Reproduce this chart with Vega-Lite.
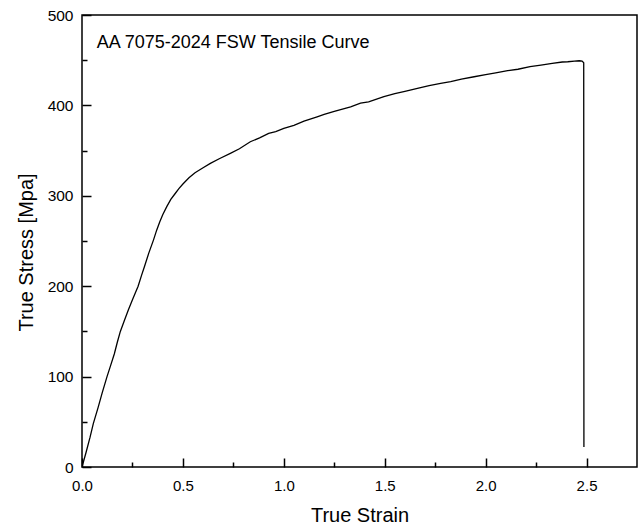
{
  "$schema": "https://vega.github.io/schema/vega-lite/v6.json",
  "width": 555,
  "height": 452,
  "autosize": "none",
  "padding": {"left": 82, "top": 15, "right": 2, "bottom": 60},
  "config": {
    "font": "Liberation Sans",
    "view": {"stroke": "#000", "strokeWidth": 1.5},
    "background": "#ffffff"
  },
  "data": {"values": [
    {"strain": 0, "stress": 0}, {"strain": 0.02, "stress": 16}, {"strain": 0.04, "stress": 33}, {"strain": 0.056, "stress": 48},
    {"strain": 0.08, "stress": 66}, {"strain": 0.10, "stress": 82}, {"strain": 0.124, "stress": 100}, {"strain": 0.14, "stress": 111},
    {"strain": 0.16, "stress": 125}, {"strain": 0.175, "stress": 138}, {"strain": 0.19, "stress": 150}, {"strain": 0.21, "stress": 162},
    {"strain": 0.23, "stress": 174}, {"strain": 0.25, "stress": 185}, {"strain": 0.278, "stress": 200}, {"strain": 0.295, "stress": 212},
    {"strain": 0.31, "stress": 222}, {"strain": 0.33, "stress": 236}, {"strain": 0.354, "stress": 251}, {"strain": 0.37, "stress": 262},
    {"strain": 0.385, "stress": 271}, {"strain": 0.40, "stress": 279}, {"strain": 0.42, "stress": 288}, {"strain": 0.44, "stress": 296},
    {"strain": 0.46, "stress": 302}, {"strain": 0.48, "stress": 308}, {"strain": 0.5, "stress": 313}, {"strain": 0.53, "stress": 320},
    {"strain": 0.56, "stress": 325.5}, {"strain": 0.6, "stress": 331}, {"strain": 0.636, "stress": 335.8}, {"strain": 0.68, "stress": 341},
    {"strain": 0.735, "stress": 346.9}, {"strain": 0.78, "stress": 352}, {"strain": 0.834, "stress": 359.8}, {"strain": 0.88, "stress": 364},
    {"strain": 0.925, "stress": 369}, {"strain": 0.96, "stress": 371}, {"strain": 1.0, "stress": 374.6}, {"strain": 1.05, "stress": 378},
    {"strain": 1.1, "stress": 382.5}, {"strain": 1.165, "stress": 387.4}, {"strain": 1.2, "stress": 390}, {"strain": 1.25, "stress": 393.5},
    {"strain": 1.331, "stress": 398.5}, {"strain": 1.38, "stress": 402.5}, {"strain": 1.42, "stress": 404}, {"strain": 1.496, "stress": 409.6},
    {"strain": 1.55, "stress": 413}, {"strain": 1.6, "stress": 415.5}, {"strain": 1.662, "stress": 418.9}, {"strain": 1.72, "stress": 422},
    {"strain": 1.777, "stress": 424.4}, {"strain": 1.827, "stress": 426.2}, {"strain": 1.88, "stress": 429}, {"strain": 1.943, "stress": 431.7},
    {"strain": 2.0, "stress": 434}, {"strain": 2.05, "stress": 436}, {"strain": 2.109, "stress": 438.4}, {"strain": 2.16, "stress": 440},
    {"strain": 2.22, "stress": 443}, {"strain": 2.274, "stress": 444.6}, {"strain": 2.33, "stress": 446.5}, {"strain": 2.38, "stress": 448},
    {"strain": 2.407, "stress": 448.3}, {"strain": 2.44, "stress": 449}, {"strain": 2.464, "stress": 449.4}, {"strain": 2.478, "stress": 449},
    {"strain": 2.486, "stress": 447.2}, {"strain": 2.487, "stress": 22}
  ]},
  "resolve": {"axis": {"x": "independent", "y": "independent"}},
  "layer": [
    {
      "mark": {"type": "line", "color": "#000", "strokeWidth": 1.3, "clip": true},
      "encoding": {
        "x": {
          "field": "strain", "type": "quantitative",
          "scale": {"domain": [0, 2.75], "nice": false, "zero": false},
          "axis": {
            "orient": "bottom", "offset": -9,
            "title": "True Strain", "titleFontSize": 20, "titleFontWeight": "normal", "titleColor": "#000", "titlePadding": 12,
            "values": [0, 0.5, 1, 1.5, 2, 2.5],
            "format": ".1f", "labelFlush": false,
            "labelFontSize": 15, "labelColor": "#000", "labelPadding": 11,
            "grid": false, "domain": false,
            "tickColor": "#000", "tickWidth": 1.5, "tickSize": 9
          }
        },
        "y": {
          "field": "stress", "type": "quantitative",
          "scale": {"domain": [0, 500], "nice": false},
          "axis": {
            "orient": "left", "offset": -9,
            "title": "True Stress [Mpa]", "titleFontSize": 20, "titleFontWeight": "normal", "titleColor": "#000", "titlePadding": 11,
            "titleY": 237,
            "values": [0, 100, 200, 300, 400, 500],
            "format": "d", "labelFlush": false,
            "labelFontSize": 15.5, "labelColor": "#000", "labelPadding": 9,
            "grid": false, "domain": false,
            "tickColor": "#000", "tickWidth": 1.5, "tickSize": 9
          }
        }
      }
    },
    {
      "mark": {"type": "line", "opacity": 0},
      "encoding": {
        "x": {
          "field": "strain", "type": "quantitative",
          "axis": {
            "orient": "bottom", "offset": -5, "title": null, "labels": false, "grid": false, "domain": false,
            "values": [0.25, 0.75, 1.25, 1.75, 2.25],
            "tickColor": "#000", "tickWidth": 1.5, "tickSize": 5
          }
        },
        "y": {
          "field": "stress", "type": "quantitative",
          "axis": {
            "orient": "left", "offset": -5, "title": null, "labels": false, "grid": false, "domain": false,
            "values": [50, 150, 250, 350, 450],
            "tickColor": "#000", "tickWidth": 1.5, "tickSize": 5
          }
        }
      }
    },
    {
      "data": {"values": [{"label": "AA 7075-2024 FSW Tensile Curve"}]},
      "mark": {"type": "text", "align": "left", "baseline": "alphabetic", "fontSize": 18, "color": "#000"},
      "encoding": {
        "x": {"datum": 0.073, "type": "quantitative", "axis": null},
        "y": {"datum": 463, "type": "quantitative", "axis": null},
        "text": {"field": "label"}
      }
    }
  ]
}
